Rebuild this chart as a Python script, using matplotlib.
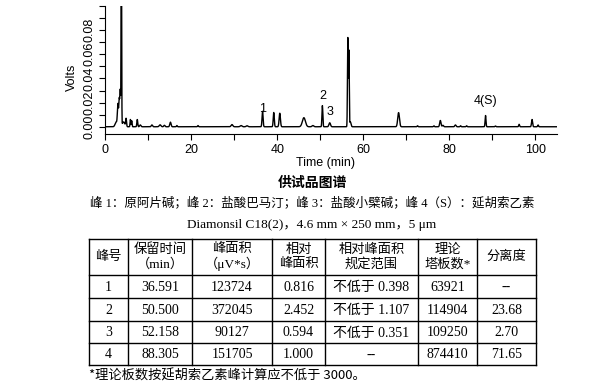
import numpy as np
import matplotlib
matplotlib.use("Agg")
import matplotlib.pyplot as plt
from matplotlib.ticker import MultipleLocator, FixedLocator

# 色谱峰（保留时间 min, 峰高 V, 宽度 sigma min）
peak_rt = [2.6, 3.0, 3.3, 3.55, 3.8, 4.3, 4.9, 5.9, 6.2, 7.5, 8.2, 10.9, 12.8, 13.8, 15.2, 16.7,
           21.6, 29.5, 31.6, 33.0, 36.6, 39.2, 40.6, 46.2, 48.3, 50.5, 52.2, 56.4, 56.65, 57.0,
           68.2, 72.6, 76.4, 77.9, 78.5, 81.4, 82.6, 84.0, 88.4, 90.7, 96.2, 99.2, 100.6]
peak_h = [0.004, 0.018, 0.022, 0.030, 0.20, 0.004, 0.0065, 0.006, 0.005, 0.006, 0.0015, 0.0015, 0.0016, 0.0012, 0.0038, 0.001,
          0.001, 0.0018, 0.001, 0.0008, 0.0128, 0.0118, 0.0112, 0.0075, 0.001, 0.0175, 0.0033, 0.0735, 0.063, 0.004,
          0.0117, 0.0008, 0.0008, 0.0052, 0.0012, 0.0015, 0.0008, 0.0008, 0.0093, 0.0006, 0.002, 0.006, 0.0015]
peak_w = [0.25, 0.12, 0.1, 0.1, 0.06, 0.3, 0.1, 0.08, 0.08, 0.1, 0.15, 0.15, 0.2, 0.15, 0.15, 0.1,
          0.1, 0.2, 0.2, 0.2, 0.12, 0.12, 0.15, 0.35, 0.2, 0.1, 0.18, 0.08, 0.08, 0.15,
          0.2, 0.1, 0.1, 0.15, 0.15, 0.15, 0.1, 0.1, 0.1, 0.1, 0.1, 0.12, 0.1]

peak_labels = ["1", "2", "3", "4(S)"]
label_t = [36.5, 50.5, 52.2, 88.4]
label_v = [0.0143, 0.0253, 0.012, 0.0212]

x_ticks = [0, 20, 40, 60, 80, 100]
y_ticks = [0.00, 0.02, 0.04, 0.06, 0.08]

# 表格
col_headers = ["峰号", "保留时间\n（min）", "峰面积\n（μV*s）", "相对\n峰面积", "相对峰面积\n规定范围", "理论\n塔板数*", "分离度"]
peak_no = ["1", "2", "3", "4"]
ret_time = ["36.591", "50.500", "52.158", "88.305"]
area = ["123724", "372045", "90127", "151705"]
rel_area = ["0.816", "2.452", "0.594", "1.000"]
rel_range = ["不低于 0.398", "不低于 1.107", "不低于 0.351", "--"]
plates = ["63921", "114904", "109250", "874410"]
resolution = ["--", "23.68", "2.70", "71.65"]

plt.rcParams['font.family'] = ['Liberation Sans', 'Noto Sans CJK SC']
serif = ['Liberation Serif', 'Noto Sans CJK SC']
cjk = ['Noto Sans CJK SC', 'Liberation Serif']

W, H = 610, 382
fig = plt.figure(figsize=(W / 100, H / 100), dpi=100)

# 色谱图
ax = fig.add_axes([105 / W, (H - 134) / H, 452 / W, 128 / H])
t = np.linspace(0, 105, 8000)
sig = np.zeros_like(t)
for rt, h, w in zip(peak_rt, peak_h, peak_w):
    sig += h * np.exp(-0.5 * ((t - rt) / w) ** 2)
ax.plot(t, sig, color='black', lw=1.0)
for lab, lt, lv in zip(peak_labels, label_t, label_v):
    ax.text(lt, lv, lab, ha='center', va='center', fontsize=9)

ax.set_xlim(0, 105)
ax.set_ylim(-0.006, 0.1)
ax.spines['top'].set_visible(False)
ax.spines['right'].set_visible(False)
ax.xaxis.set_major_locator(FixedLocator(x_ticks))
ax.xaxis.set_minor_locator(MultipleLocator(10))
ax.yaxis.set_major_locator(FixedLocator(y_ticks))
ax.yaxis.set_minor_locator(MultipleLocator(0.01))
ax.set_yticklabels(["%.2f" % v for v in y_ticks], rotation=90, va='center')
ax.tick_params(which='both', direction='out', length=4, width=0.8, labelsize=9)
ax.tick_params(axis='x', pad=3)
ax.tick_params(axis='y', pad=3)

fig.text(72 / W, 1 - 77 / H, "Volts", rotation=90, ha='center', va='center', fontsize=9)
fig.text(326 / W, 1 - 163 / H, "Time (min)", ha='center', va='center', fontsize=9)

# 文字与表格（像素坐标）
ov = fig.add_axes([0, 0, 1, 1])
ov.set_xlim(0, W)
ov.set_ylim(H, 0)
ov.axis('off')

ov.text(312, 183, "供试品图谱", ha='center', va='center', fontsize=10, fontweight='bold', family=cjk)
ov.text(312, 203, "峰 1：原阿片碱；峰 2：盐酸巴马汀；峰 3：盐酸小檗碱；峰 4（S）：延胡索乙素",
        ha='center', va='center', fontsize=9, family=serif)
ov.text(312, 225, "Diamonsil C18(2)，4.6 mm × 250 mm，5 μm", ha='center', va='center',
        fontsize=9.5, family=serif)

col_x = [89, 128, 192, 272, 325, 418, 477, 536]
row_y = [239, 275, 298, 321, 343, 365]
for cx in col_x:
    ov.plot([cx, cx], [row_y[0], row_y[-1]], color='black', lw=1)
for ry in row_y:
    ov.plot([col_x[0], col_x[-1]], [ry, ry], color='black', lw=1)

centers = [(col_x[i] + col_x[i + 1]) / 2 for i in range(len(col_x) - 1)]
for c, head in zip(centers, col_headers):
    ov.text(c, (row_y[0] + row_y[1]) / 2, head, ha='center', va='center', fontsize=9.5,
            family=serif, linespacing=1.2)

columns = [peak_no, ret_time, area, rel_area, rel_range, plates, resolution]
for ci, col in enumerate(columns):
    for ri, val in enumerate(col):
        cy = (row_y[ri + 1] + row_y[ri + 2]) / 2 + 1
        ov.text(centers[ci], cy, val, ha='center', va='center', fontsize=10, family=serif)

ov.text(89, 376, "*理论板数按延胡索乙素峰计算应不低于 3000。", ha='left', va='center',
        fontsize=9.5, family=cjk)

fig.savefig("out.png", dpi=100)
